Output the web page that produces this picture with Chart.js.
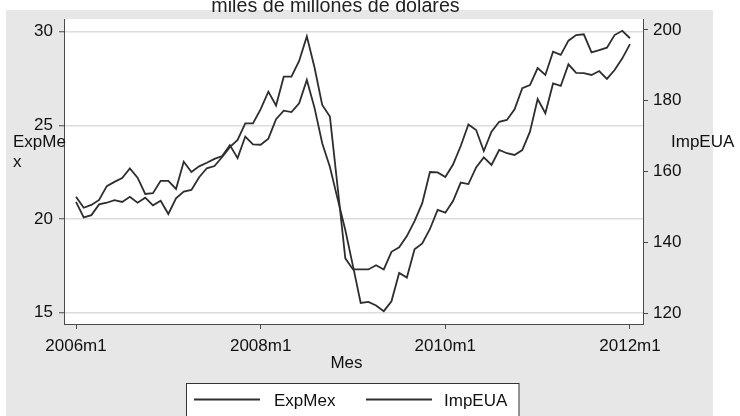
<!DOCTYPE html>
<html>
<head>
<meta charset="utf-8">
<script src="https://cdn.jsdelivr.net/npm/chart.js@4.4.1/dist/chart.umd.min.js"></script>
<style>
  html, body { margin: 0; padding: 0; background: #ffffff; }
  canvas { display: block; }
</style>
</head>
<body>
<canvas id="c" width="740" height="416"></canvas>
<script>
// ---- data (monthly, 2006m1 .. 2012m1) ----
const months = [];
for (let y = 2006; y <= 2012; y++) {
  for (let m = 1; m <= 12; m++) {
    if (y === 2012 && m > 1) break;
    months.push(y + 'm' + m);
  }
}
const expMex = [20.92,20.09,20.21,20.78,20.87,21.01,20.91,21.19,20.87,21.14,
                20.73,20.98,20.27,21.11,21.46,21.55,22.23,22.71,22.83,23.31,
                23.84,24.22,25.11,25.11,25.87,26.80,26.06,27.60,27.60,28.44,
                29.75,28.09,26.09,25.47,21.71,17.90,17.31,17.31,17.31,17.53,
                17.31,18.25,18.49,19.09,19.89,20.85,22.51,22.49,22.24,22.91,
                23.90,25.05,24.75,23.63,24.66,25.19,25.29,25.86,26.98,27.15,
                28.06,27.69,28.93,28.76,29.52,29.82,29.86,28.90,29.02,29.15,
                29.82,30.05,29.65];
const impEUA = [152.9,149.8,150.6,152.0,155.9,157.1,158.2,160.9,158.3,153.7,
                153.9,157.4,157.4,155.1,162.8,159.9,161.5,162.5,163.6,164.4,
                167.5,163.8,169.9,167.7,167.6,169.3,174.8,177.2,176.8,179.3,
                185.9,178.0,168.0,161.3,152.3,143.5,133.3,122.9,123.2,122.2,
                120.6,123.4,131.4,130.1,138.1,139.7,143.8,149.2,148.4,151.7,
                156.9,156.5,161.2,164.0,161.9,166.1,165.2,164.7,166.1,171.3,
                180.5,176.5,184.9,184.2,190.3,187.9,187.8,187.3,188.4,186.2,
                188.7,192.0,196.0];
const xTickLabels = ['2006m1', '2008m1', '2010m1', '2012m1'];
const leftTicks = [15, 20, 25, 30];
const rightTicks = [120, 140, 160, 180, 200];
const titleText = 'miles de millones de dólares';
const xTitle = 'Mes';
const leftTitle = ['ExpMe', 'x'];
const rightTitle = 'ImpEUA';
const seriesNames = ['ExpMex', 'ImpEUA'];

// ---- styling ----
const FONT = "'Liberation Sans', Arial, Helvetica, sans-serif";
const LINE = '#2e2e2e';
const AXIS = '#4a4a4a';
const TXT = '#111111';
const BG = '#e7e7e7';

const xTickPos = xTickLabels.map(l => months.indexOf(l));

const frame = {
  id: 'frame',
  beforeDraw(chart) {
    const ctx = chart.ctx, a = chart.chartArea;
    ctx.save();
    ctx.fillStyle = '#ffffff';
    ctx.fillRect(0, 0, chart.width, chart.height);
    ctx.fillStyle = BG;
    ctx.fillRect(6, 10, 707, chart.height - 10);
    ctx.fillStyle = '#ffffff';
    ctx.fillRect(a.left, a.top, a.right - a.left, a.bottom - a.top);
    ctx.restore();
  },
  afterDraw(chart) {
    const ctx = chart.ctx;
    ctx.save();
    ctx.fillStyle = '#222';
    ctx.textBaseline = 'alphabetic';
    // clipped title
    ctx.font = '19.7px ' + FONT;
    ctx.textAlign = 'center';
    ctx.fillText(titleText, 335.5, 11.5);
    // axis titles
    ctx.fillStyle = TXT;
    ctx.font = '17px ' + FONT;
    ctx.textAlign = 'left';
    ctx.fillText(leftTitle[0], 13, 147);
    ctx.fillText(leftTitle[1], 13, 167);
    ctx.fillText(rightTitle, 671, 147);
    ctx.textAlign = 'center';
    ctx.fillText(xTitle, 346.5, 368);
    // legend
    ctx.fillStyle = '#ffffff';
    ctx.fillRect(186.5, 383.5, 332.5, 40);
    ctx.strokeStyle = '#333';
    ctx.lineWidth = 1;
    ctx.strokeRect(186.5, 383.5, 332.5, 40);
    ctx.strokeStyle = LINE;
    ctx.lineWidth = 1.8;
    ctx.beginPath();
    ctx.moveTo(194, 399.5); ctx.lineTo(260, 399.5);
    ctx.moveTo(366, 399.5); ctx.lineTo(432, 399.5);
    ctx.stroke();
    ctx.fillStyle = TXT;
    ctx.textAlign = 'left';
    ctx.fillText(seriesNames[0], 274, 406);
    ctx.fillText(seriesNames[1], 444, 406);
    ctx.restore();
  }
};

new Chart(document.getElementById('c'), {
  type: 'line',
  data: {
    datasets: [
      { label: seriesNames[0], data: expMex.map((v, i) => ({ x: i, y: v })), yAxisID: 'y',
        borderColor: LINE, borderWidth: 1.8, pointRadius: 0, tension: 0, fill: false },
      { label: seriesNames[1], data: impEUA.map((v, i) => ({ x: i, y: v })), yAxisID: 'y2',
        borderColor: LINE, borderWidth: 1.8, pointRadius: 0, tension: 0, fill: false }
    ]
  },
  options: {
    responsive: false,
    devicePixelRatio: 1,
    animation: false,
    events: [],
    layout: { padding: { top: 19, left: 0, right: 0, bottom: 0 } },
    plugins: { legend: { display: false }, title: { display: false }, tooltip: { enabled: false } },
    scales: {
      x: {
        type: 'linear', min: -1.56, max: 73.69,
        afterBuildTicks: s => { s.ticks = xTickPos.map(v => ({ value: v })); },
        afterFit: s => { s.height = 92; },
        ticks: { callback: v => months[v], color: TXT, font: { family: FONT, size: 17 },
                 padding: 7, maxRotation: 0, autoSkip: false },
        grid: { drawOnChartArea: false, drawTicks: true, tickLength: 5, tickColor: AXIS, tickWidth: 1 },
        border: { display: true, color: AXIS, width: 1 }
      },
      y: {
        position: 'left', min: 14.397, max: 30.678,
        afterBuildTicks: s => { s.ticks = leftTicks.map(v => ({ value: v })); },
        afterFit: s => { s.width = 64; },
        ticks: { color: TXT, font: { family: FONT, size: 17 }, padding: 6 },
        grid: { color: '#dcdcdc', lineWidth: 1.5, drawTicks: true, tickLength: 5, tickColor: AXIS, tickWidth: 1 },
        border: { display: true, color: AXIS, width: 1 }
      },
      y2: {
        position: 'right', min: 116.97, max: 203.1,
        afterBuildTicks: s => { s.ticks = rightTicks.map(v => ({ value: v })); },
        afterFit: s => { s.width = 97; },
        ticks: { color: TXT, font: { family: FONT, size: 17 }, padding: 5 },
        grid: { drawOnChartArea: false, drawTicks: true, tickLength: 5, tickColor: AXIS, tickWidth: 1 },
        border: { display: true, color: AXIS, width: 1 }
      }
    }
  },
  plugins: [frame]
});
</script>
</body>
</html>
